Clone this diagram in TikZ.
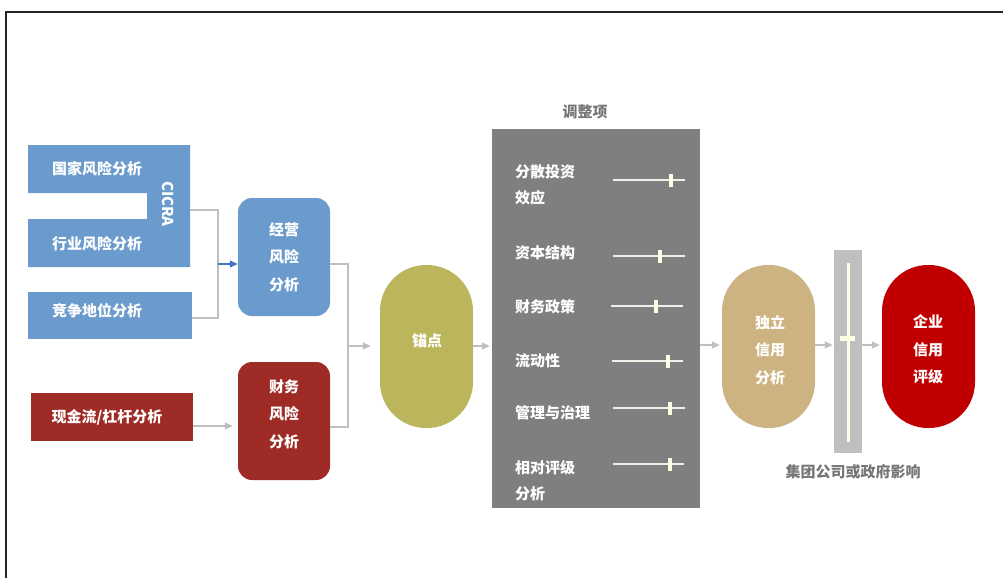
\documentclass[tikz,border=0pt]{standalone}
\usepackage{fontspec}
\setmainfont{Noto Sans CJK SC}
\usetikzlibrary{arrows.meta}
\definecolor{cblue}{HTML}{6B9BCD}
\definecolor{cdred}{HTML}{9E2B25}
\definecolor{colive}{HTML}{BBB55B}
\definecolor{ctan}{HTML}{CDB381}
\definecolor{cred}{HTML}{C00000}
\definecolor{cpanel}{HTML}{7F7F7F}
\definecolor{cline}{HTML}{BFBFBF}
\definecolor{ccream}{HTML}{FFFFE6}
\definecolor{cslide}{HTML}{F0F0E8}
\definecolor{cgtext}{HTML}{767676}
\definecolor{carrowblue}{HTML}{4472C4}
\tikzset{
  wtxt/.style={text=white,font=\fontsize{15}{27.5}\bfseries\selectfont,align=center,inner sep=0pt},
  ltxt/.style={text=white,font=\fontsize{15}{26}\bfseries\selectfont,align=left,anchor=west,inner sep=0pt},
  gtxt/.style={text=cgtext,font=\fontsize{15}{18}\bfseries\selectfont,inner sep=0pt},
  rbox/.style={rounded corners=14pt,minimum width=92pt,minimum height=118pt,inner sep=0pt},
  stadium/.style={rounded corners=46pt,minimum width=93pt,minimum height=163pt,inner sep=0pt},
  sqbox/.style={inner sep=0pt},
  conn/.style={draw=cline,line width=1.5pt},
  carrow/.style={draw=cline,line width=1.5pt,-{Triangle[length=8pt,width=7pt]},color=cline},
  barrow/.style={draw=carrowblue,line width=1.2pt,-{Triangle[length=8pt,width=7pt]}},
  sline/.style={draw=cslide,line width=1.4pt},
  shandle/.style={fill=ccream,draw=none,minimum width=4pt,minimum height=13pt,inner sep=0pt}
}
\begin{document}
\begin{tikzpicture}[x=1pt,y=-1pt]
\useasboundingbox (0,0) rectangle (1003,578);
% frame
\draw[line width=1.6pt,black!85] (6,578) -- (6,12) -- (1003,12);

% CICRA C-shape
\fill[cblue] (28,145) -- (190,145) -- (190,267) -- (28,267) -- (28,219) -- (147,219) -- (147,193) -- (28,193) -- cycle;
\node[wtxt,rotate=-90] (cicra) at (168,204) {CICRA};
\node[wtxt] (guojia) at (97,169) {国家风险分析};
\node[wtxt] (hangye) at (97,244) {行业风险分析};
\coordinate (cicraR) at (190,210);

% competition box
\node[sqbox,fill=cblue,minimum width=164pt,minimum height=47pt] (jingzheng) at (110,315.5) {};
\node[wtxt] (jingzhengT) at (97,311) {竞争地位分析};

% cash flow box
\node[sqbox,fill=cdred,minimum width=162pt,minimum height=48pt] (xianjin) at (112,417) {};
\node[wtxt] (xianjinT) at (107,417) {现金流/杠杆分析};

% operating risk
\node[rbox,fill=cblue] (jingying) at (284,257) {};
\node[wtxt] (jingyingT) at (284,257) {经营\\风险\\分析};
% financial risk
\node[rbox,fill=cdred] (caiwu) at (284,421) {};
\node[wtxt] (caiwuT) at (284,414) {财务\\风险\\分析};

% connectors left
\coordinate (j1) at (218,264);
\draw[conn] (cicraR) -| (j1);
\draw[conn] (jingzheng.east |- 0,318) -| (j1);
\draw[barrow] (j1) -- (jingying.west |- j1);
\draw[carrow,shorten >=5pt] (xianjin.east |- 0,426) -- (caiwu.west |- 0,426);

% anchor
\node[stadium,fill=colive] (maodian) at (426.5,346.5) {};
\node[wtxt] (maodianT) at (427,341) {锚点};
\coordinate (j2) at (348,346);
\draw[conn] (jingying.east |- 0,264) -| (j2);
\draw[conn] (caiwu.east |- 0,427) -| (j2);
\draw[carrow,shorten >=9pt] (j2) -- (maodian.west |- j2);

% adjustment panel
\node[sqbox,fill=cpanel,minimum width=208pt,minimum height=379pt] (panel) at (596,318.5) {};
\node[gtxt] (panelT) at (585,112) {调整项};
\draw[carrow,shorten >=2pt] (maodian.east |- 0,346) -- (panel.west |- 0,346);

\node[ltxt] (s1) at (515,185) {分散投资\\效应};
\draw[sline] (613,180) -- (685,180);
\node[shandle] (h1) at (671,180) {};
\node[ltxt] (s2) at (515,253) {资本结构};
\draw[sline] (613,256) -- (685,256);
\node[shandle] (h2) at (660,256) {};
\node[ltxt] (s3) at (515,307) {财务政策};
\draw[sline] (611,306) -- (683,306);
\node[shandle] (h3) at (656,306) {};
\node[ltxt] (s4) at (515,361) {流动性};
\draw[sline] (612,361) -- (683,361);
\node[shandle] (h4) at (668,361) {};
\node[ltxt] (s5) at (515,413) {管理与治理};
\draw[sline] (613,408) -- (685,408);
\node[shandle] (h5) at (670,408) {};
\node[ltxt] (s6) at (515,481) {相对评级\\分析};
\draw[sline] (613,464) -- (684,464);
\node[shandle] (h6) at (670,464) {};

% independent credit
\node[stadium,fill=ctan] (duli) at (768.5,346.5) {};
\node[wtxt] (duliT) at (770,350) {独立\\信用\\分析};
\draw[carrow,shorten >=2pt] (panel.east |- 0,345) -- (duli.west |- 0,345);

% slider bar
\node[sqbox,fill=cline,minimum width=28pt,minimum height=203pt] (bar) at (848,351.5) {};
\fill[ccream] (846.5,263) rectangle (849.5,442);
\fill[ccream] (840,335.5) rectangle (855,340.5);
\node[gtxt] (barT) at (853,472) {集团公司或政府影响};
\draw[carrow,shorten >=1pt] (duli.east |- 0,345) -- (bar.west |- 0,345);

% corporate rating
\node[stadium,fill=cred] (qiye) at (928.5,346.5) {};
\node[wtxt] (qiyeT) at (928,349.5) {企业\\信用\\评级};
\draw[carrow,shorten >=2pt] (bar.east |- 0,345) -- (qiye.west |- 0,345);
\end{tikzpicture}
\end{document}
